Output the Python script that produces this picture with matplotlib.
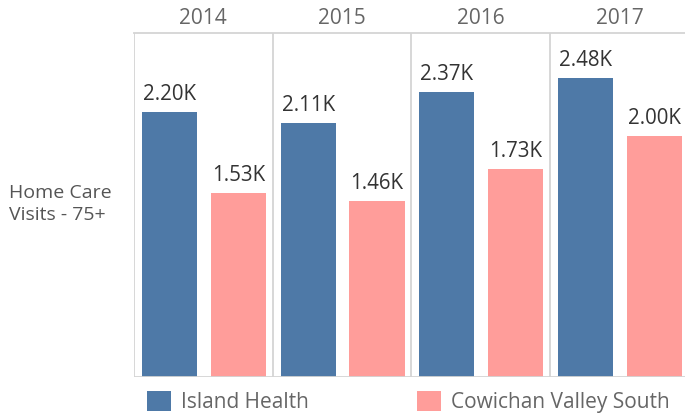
import matplotlib
matplotlib.use('Agg')
import matplotlib.pyplot as plt
from matplotlib.patches import Patch
import numpy as np

plt.rcParams['font.family'] = ['Open Sans', 'DejaVu Sans']

years = ['2014', '2015', '2016', '2017']
island_health = [2.20, 2.11, 2.37, 2.48]
cowichan = [1.53, 1.46, 1.73, 2.00]
series_names = ['Island Health', 'Cowichan Valley South']
colors = ['#4e79a7', '#ff9d9a']

fig = plt.figure(figsize=(6.85, 4.15), dpi=100)
ax = fig.add_axes([134 / 685, 38 / 415, 4 * 138.7 / 685, 344 / 415])

x = np.arange(len(years))
bw = 0.397
b1 = ax.bar(x + 0.256, island_health, width=bw, color=colors[0])
b2 = ax.bar(x + 0.752, cowichan, width=bw, color=colors[1])

for bars, vals in ((b1, island_health), (b2, cowichan)):
    for rect, v in zip(bars, vals):
        ax.annotate(f'{v:.2f}K', (rect.get_x() + rect.get_width() / 2, v),
                    xytext=(0, 5), textcoords='offset points',
                    ha='center', va='bottom', fontsize=14.8, color='#333333')

ax.set_xlim(0, 4)
ax.set_ylim(0, 2.856)

# panel frame
grid_c = '#d4d4d4'
for xv in range(5):
    ax.axvline(xv, color=grid_c, lw=1.3, zorder=0)
ax.axhline(0, color=grid_c, lw=1.3, zorder=3)
ax.axhline(2.856, color=grid_c, lw=1.3, clip_on=False)
for s in ax.spines.values():
    s.set_visible(False)

ax.set_yticks([])
ax.xaxis.tick_top()
ax.set_xticks(x + 0.5)
ax.set_xticklabels(years, fontsize=15, color='#666666')
ax.tick_params(axis='x', length=0, pad=3)

fig.text(9 / 685, 1 - 204 / 415, 'Home Care\nVisits - 75+', ha='left', va='center',
         fontsize=14, color='#555555', linespacing=1.25)

handles = [Patch(facecolor=c, edgecolor='none') for c in colors]
fig.legend(handles, series_names, loc='center left', bbox_to_anchor=(147 / 685, 1 - 402 / 415),
           ncol=2, frameon=False, fontsize=15, handlelength=1.15, handleheight=1.15,
           handletextpad=0.48, columnspacing=5.2, labelcolor='#666666',
           borderaxespad=0, borderpad=0)

fig.savefig('out.png', dpi=100)
